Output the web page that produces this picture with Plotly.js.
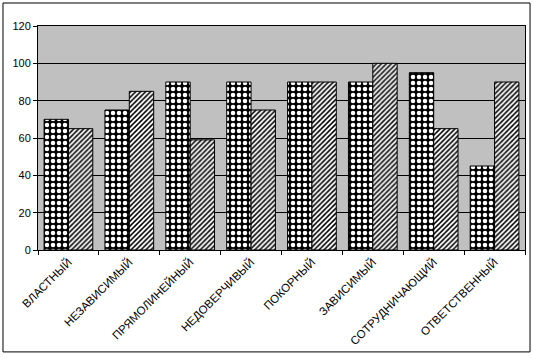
<!DOCTYPE html>
<html><head><meta charset="utf-8">
<script src="https://cdn.plot.ly/plotly-3.0.1.min.js"></script>
<style>html,body{margin:0;padding:0;background:#fff;}#chart{width:533px;height:358px;}</style>
</head><body><div id="chart"></div>
<script>
const categories = ["ВЛАСТНЫЙ","НЕЗАВИСИМЫЙ","ПРЯМОЛИНЕЙНЫЙ","НЕДОВЕРЧИВЫЙ","ПОКОРНЫЙ","ЗАВИСИМЫЙ","СОТРУДНИЧАЮЩИЙ","ОТВЕТСТВЕННЫЙ"];
const series1 = [70, 75, 90, 90, 90, 90, 95, 45];
const series2 = [65, 85, 59, 75, 90, 100, 65, 90];
const yTicks = [0, 20, 40, 60, 80, 100, 120];

const traces = [
  {type:'bar', x:categories, y:series1, name:'Ряд1',
   marker:{color:'#000000', line:{color:'#000000', width:1},
     pattern:{shape:'.', fgcolor:'#ffffff', bgcolor:'#000000', size:6, solidity:0.45}}},
  {type:'bar', x:categories, y:series2, name:'Ряд2',
   marker:{color:'#ffffff', line:{color:'#000000', width:1},
     pattern:{shape:'/', fgcolor:'#000000', bgcolor:'#ffffff', size:3.5, solidity:0.45}}}
];
const layout = {
  width:533, height:358,
  margin:{l:38, r:8, t:26, b:108},
  paper_bgcolor:'#ffffff', plot_bgcolor:'#c0c0c0',
  showlegend:false, barmode:'group', bargap:0.2, bargroupgap:0,
  font:{family:'Liberation Sans, Arial, sans-serif', size:11, color:'#000'},
  xaxis:{type:'category', tickangle:-45, tickfont:{size:11.5, family:'Liberation Sans Narrow, Liberation Sans, Arial, sans-serif'}, ticks:'outside', ticklen:4,
    tickson:'boundaries', tickcolor:'#000', showline:true, linecolor:'#000', linewidth:1, mirror:true,
    showgrid:false},
  yaxis:{range:[0,120], tickvals:yTicks, ticktext:yTicks.map(String), ticks:'outside', ticklen:4, tickcolor:'#000',
    showline:true, linecolor:'#000', linewidth:1, mirror:true, gridcolor:'#000', gridwidth:1, zeroline:false},
  shapes:[{type:'rect', xref:'paper', yref:'paper', x0:-0.0719, x1:1.0103, y0:-0.455, y1:1.1027,
    line:{color:'#000', width:1}, fillcolor:'rgba(0,0,0,0)'}]
};
Plotly.newPlot('chart', traces, layout, {staticPlot:true, displayModeBar:false});
</script></body></html>
